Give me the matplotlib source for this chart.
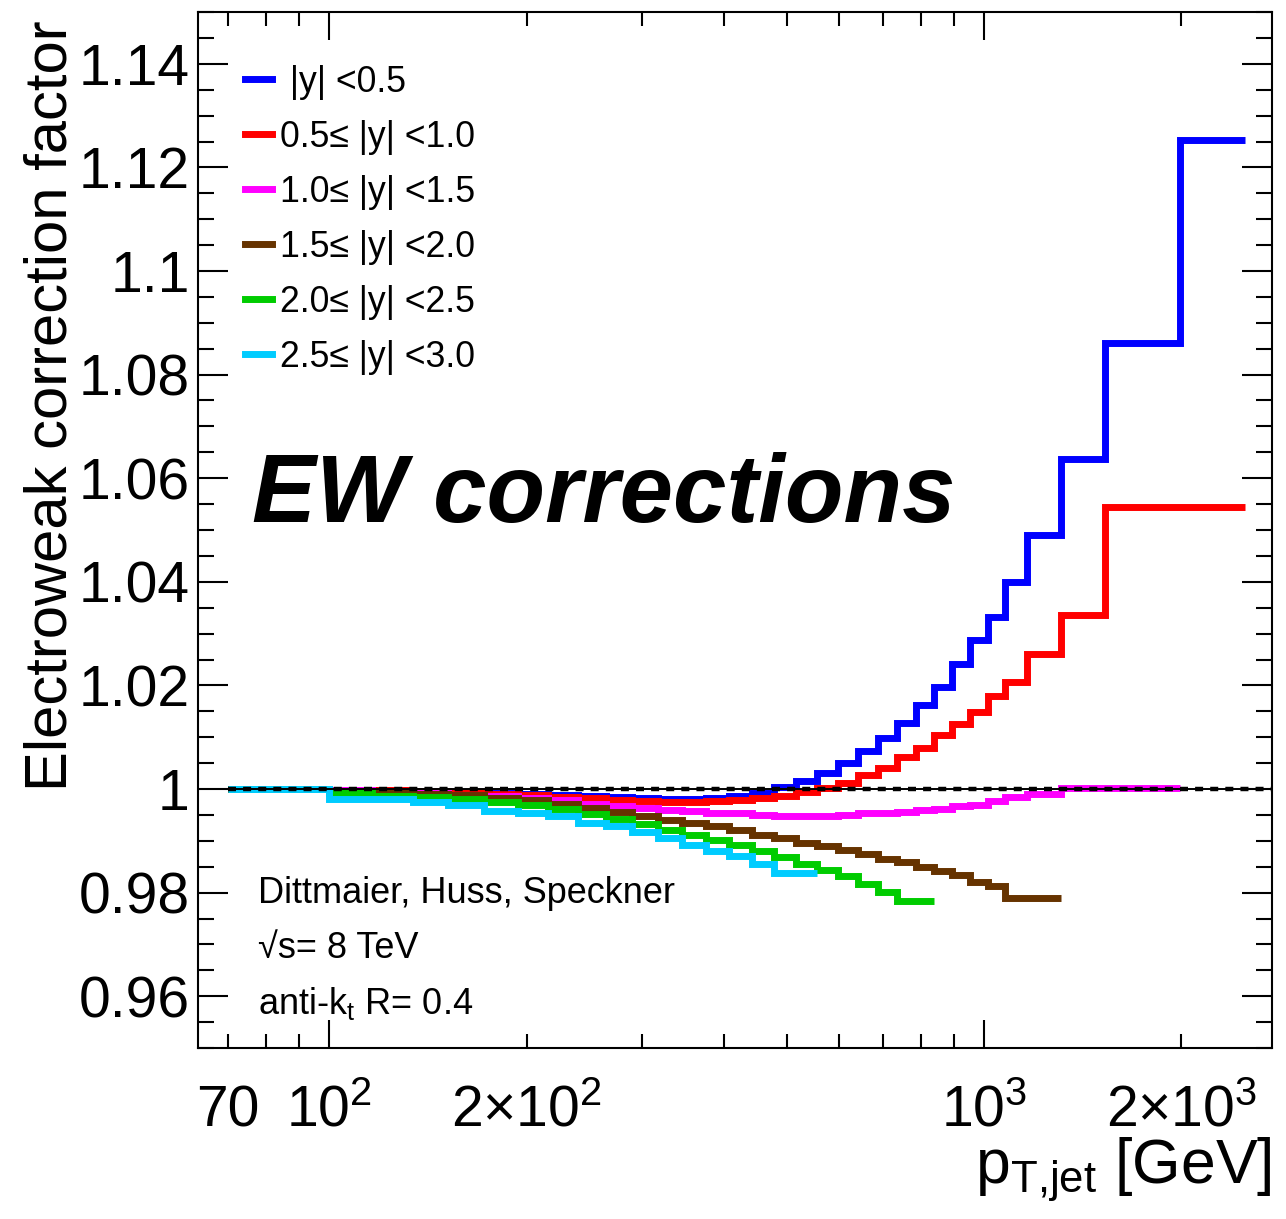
import numpy as np
import matplotlib
matplotlib.use("Agg")
import matplotlib.pyplot as plt
from matplotlib.ticker import FixedLocator, FixedFormatter, FuncFormatter

plt.rcParams['font.family'] = ['Liberation Sans', 'DejaVu Sans']
plt.rcParams['mathtext.fontset'] = 'custom'
plt.rcParams['mathtext.rm'] = 'Liberation Sans'
plt.rcParams['mathtext.it'] = 'Liberation Sans:italic'
plt.rcParams['mathtext.bf'] = 'Liberation Sans:bold'

# pT bin edges [GeV]
edges = [70, 85, 100, 116, 134, 152, 172, 194, 216, 240, 264, 290, 318, 346,
         376, 408, 442, 478, 516, 556, 598, 642, 688, 736, 786, 838, 894, 952,
         1012, 1076, 1162, 1310, 1530, 1992, 2500]

# EW correction factor per rapidity slice
ew_y00_05 = [1.0, 1.0, 0.9999, 0.9998, 0.9997, 0.9995, 0.9993, 0.9991, 0.9989,
             0.9986, 0.9984, 0.9982, 0.9981, 0.9980, 0.9982, 0.9986, 0.9993,
             1.0003, 1.0015, 1.0030, 1.0050, 1.0073, 1.0098, 1.0127, 1.0163,
             1.0196, 1.0242, 1.0287, 1.0333, 1.0399, 1.0491, 1.0637, 1.0861,
             1.1252]
ew_y05_10 = [1.0, 1.0, 0.9999, 0.9998, 0.9996, 0.9994, 0.9991, 0.9988, 0.9985,
             0.9982, 0.9978, 0.9976, 0.9975, 0.9975, 0.9976, 0.9978, 0.9982,
             0.9986, 0.9994, 1.0002, 1.0012, 1.0027, 1.0041, 1.0061, 1.0079,
             1.0104, 1.0126, 1.0149, 1.0180, 1.0207, 1.0260, 1.0335, 1.0545,
             1.0545]
ew_y10_15 = [1.0, 1.0, 0.9998, 0.9995, 0.9993, 0.9989, 0.9987, 0.9983, 0.9979,
             0.9972, 0.9967, 0.9963, 0.9960, 0.9957, 0.9954, 0.9953, 0.9950,
             0.9948, 0.9948, 0.9947, 0.9949, 0.9953, 0.9953, 0.9955, 0.9959,
             0.9961, 0.9967, 0.9970, 0.9976, 0.9985, 0.9991, 1.0001, 1.0001]
ew_y15_20 = [1.0, 1.0, 0.9997, 0.9994, 0.9991, 0.9988, 0.9983, 0.9978, 0.9971,
             0.9963, 0.9956, 0.9948, 0.9941, 0.9934, 0.9929, 0.9921, 0.9912,
             0.9905, 0.9895, 0.9889, 0.9882, 0.9874, 0.9865, 0.9860, 0.9849,
             0.9841, 0.9834, 0.9821, 0.9812, 0.9790, 0.9790]
ew_y20_25 = [1.0, 1.0, 0.9992, 0.9986, 0.9984, 0.9980, 0.9975, 0.9969, 0.9962,
             0.9951, 0.9943, 0.9932, 0.9921, 0.9911, 0.9902, 0.9891, 0.9880,
             0.9869, 0.9856, 0.9843, 0.9832, 0.9817, 0.9801, 0.9784, 0.9784]
ew_y25_30 = [1.0, 1.0, 0.9980, 0.9981, 0.9975, 0.9970, 0.9958, 0.9953, 0.9947,
             0.9935, 0.9929, 0.9917, 0.9905, 0.9891, 0.9880, 0.9871, 0.9855,
             0.9838, 0.9838]

series = [ew_y00_05, ew_y05_10, ew_y10_15, ew_y15_20, ew_y20_25, ew_y25_30]
labels = [' |y| <0.5', '0.5\u2264 |y| <1.0', '1.0\u2264 |y| <1.5',
          '1.5\u2264 |y| <2.0', '2.0\u2264 |y| <2.5', '2.5\u2264 |y| <3.0']
colors = ['#0000ff', '#ff0000', '#ff00ff', '#663300', '#00cc00', '#00ccff']

x_major = [100, 1000]
x_major_labels = [r'$10^{2}$', r'$10^{3}$']
x_minor = [70, 80, 90, 200, 300, 400, 500, 600, 700, 800, 900, 2000]
x_minor_labels = ['70', '', '', r'$2{\times}10^{2}$', '', '', '', '', '', '', '',
                  r'$2{\times}10^{3}$']

fig = plt.figure(figsize=(12.86, 12.19), dpi=100)
ax = fig.add_axes([198 / 1286, 171 / 1219, 1074 / 1286, 1036 / 1219])

handles = []
for vals, lab, col in zip(series, labels, colors):
    h = ax.stairs(vals, edges[:len(vals) + 1], baseline=None, color=col,
                  linewidth=5.0, label=lab)
    handles.append(h)

# reference line at unity
ax.plot([70, 2750], [1, 1], color='black', linewidth=1.4)
ax.plot([70, 2750], [1, 1], color='black', linewidth=3.2, linestyle=(0, (1.8, 1.6)))

ax.set_xscale('log')
ax.set_xlim(63, 2750)
ax.set_ylim(0.95, 1.15)

ax.xaxis.set_major_locator(FixedLocator(x_major))
ax.xaxis.set_major_formatter(FixedFormatter(x_major_labels))
ax.xaxis.set_minor_locator(FixedLocator(x_minor))
ax.xaxis.set_minor_formatter(FixedFormatter(x_minor_labels))
ax.yaxis.set_major_locator(FixedLocator(np.arange(0.96, 1.141, 0.02)))
ax.yaxis.set_minor_locator(FixedLocator(np.arange(0.95, 1.1501, 0.005)))
ax.yaxis.set_major_formatter(FuncFormatter(lambda v, p: '%g' % round(v, 2)))

ax.tick_params(axis='both', which='both', direction='in', top=True, right=True,
               width=1.5, colors='black')
ax.tick_params(axis='y', which='major', length=21.5, labelsize=41, pad=6)
ax.tick_params(axis='y', which='minor', length=11.5)
ax.tick_params(axis='x', which='major', length=20, labelsize=41, pad=26)
ax.tick_params(axis='x', which='minor', length=10, labelsize=41, pad=26)
for s in ax.spines.values():
    s.set_linewidth(1.5)

ax.text(-0.137, 0.992, 'Electroweak correction factor', transform=ax.transAxes,
        rotation=90, ha='center', va='top', fontsize=43)
ax.text(1.0, -0.130, r'$\mathrm{p}_{\mathrm{T{,}jet}}$ [GeV]', transform=ax.transAxes,
        ha='right', va='baseline', fontsize=45)

ax.text(0.0503, 0.5077, 'EW corrections', transform=ax.transAxes, fontsize=69,
        fontweight='bold', fontstyle='italic', va='baseline', ha='left')

ax.text(0.0559, 0.140, 'Dittmaier, Huss, Speckner', transform=ax.transAxes,
        fontsize=26, va='baseline')
ax.text(0.0559, 0.0869, '\u221as= 8 TeV', transform=ax.transAxes,
        fontsize=26, va='baseline')
ax.text(0.0559, 0.0328, r'anti-k$_{\mathrm{t}}$ R= 0.4', transform=ax.transAxes,
        fontsize=26, va='baseline')

ax.legend(handles=handles, loc='upper left', bbox_to_anchor=(0.0438, 0.949),
          frameon=False, fontsize=25.7, borderpad=0, borderaxespad=0,
          handlelength=0.76, handletextpad=0.22, labelspacing=0.56)

fig.savefig('out.png', dpi=100)
